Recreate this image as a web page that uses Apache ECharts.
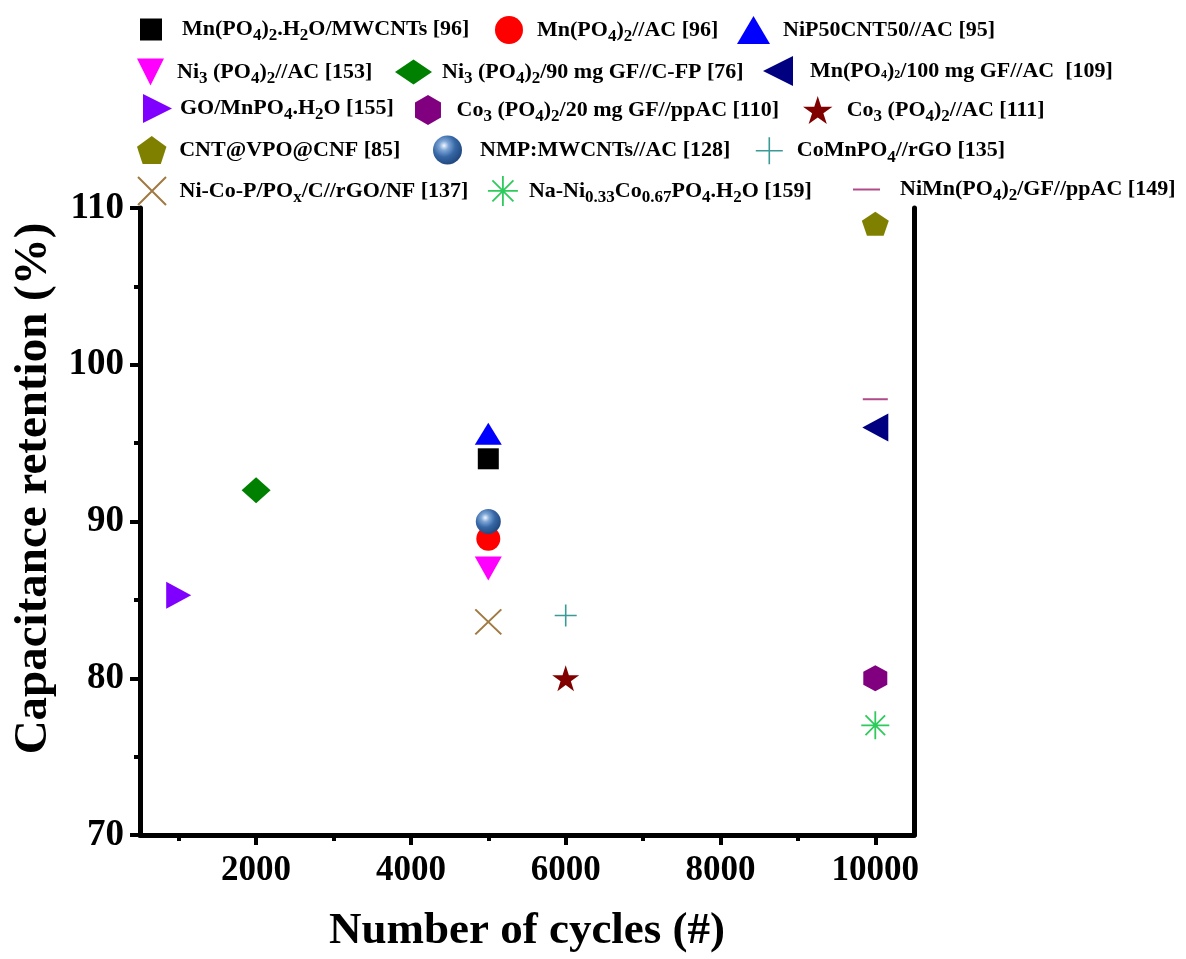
<!DOCTYPE html>
<html>
<head>
<meta charset="utf-8">
<script src="https://cdn.jsdelivr.net/npm/echarts@6/dist/echarts.min.js"></script>
<style>
html,body{margin:0;padding:0;background:#fff;}
#chart{width:1186px;height:959px;}
</style>
</head>
<body>
<div id="chart"></div>
<script>
// ---------- DATA ----------
const seriesNames = [
  'Mn(PO4)2.H2O/MWCNTs [96]',
  'Mn(PO4)2//AC [96]',
  'NiP50CNT50//AC [95]',
  'Ni3 (PO4)2//AC [153]',
  'Ni3 (PO4)2/90 mg GF//C-FP [76]',
  'Mn(PO4)2/100 mg GF//AC  [109]',
  'GO/MnPO4.H2O [155]',
  'Co3 (PO4)2/20 mg GF//ppAC [110]',
  'Co3 (PO4)2//AC [111]',
  'CNT@VPO@CNF [85]',
  'NMP:MWCNTs//AC [128]',
  'CoMnPO4//rGO [135]',
  'Ni-Co-P/POx/C//rGO/NF [137]',
  'Na-Ni0.33Co0.67PO4.H2O [159]',
  'NiMn(PO4)2/GF//ppAC [149]'
];
// rich-text versions of the legend labels (subscripts)
const legendLabels = [
  'Mn(PO{s|4}){s|2}.H{s|2}O/MWCNTs [96]',
  'Mn(PO{s|4}){s|2}//AC [96]',
  'NiP50CNT50//AC [95]',
  'Ni{s|3} (PO{s|4}){s|2}//AC [153]',
  'Ni{s|3} (PO{s|4}){s|2}/90 mg GF//C-FP [76]',
  'Mn(PO{t|4}){t|2}/100 mg GF//AC  [109]',
  'GO/MnPO{s|4}.H{s|2}O [155]',
  'Co{s|3} (PO{s|4}){s|2}/20 mg GF//ppAC [110]',
  'Co{s|3} (PO{s|4}){s|2}//AC [111]',
  'CNT@VPO@CNF [85]',
  'NMP:MWCNTs//AC [128]',
  'CoMnPO{s|4}//rGO [135]',
  'Ni-Co-P/PO{s|x}/C//rGO/NF [137]',
  'Na-Ni{s|0.33}Co{s|0.67}PO{s|4}.H{s|2}O [159]',
  'NiMn(PO{s|4}){s|2}/GF//ppAC [149]'
];
const cycles    = [5000, 5000, 5000, 5000, 2000, 10000, 1000, 10000, 6000, 10000, 5000, 6000, 5000, 10000, 10000];
const retention = [94.0, 88.9, 95.6, 87.0, 92.0, 96.0, 85.3, 80.0, 80.0, 109.0, 90.0, 84.0, 83.6, 77.0, 97.8];
const xMajorTicks = [2000, 4000, 6000, 8000, 10000];
const xMinorTicks = [1000, 3000, 5000, 7000, 9000];

// ---------- STYLES ----------
const FONT = '"Liberation Serif","Times New Roman",serif';
const sphereFill = {
  type: 'radial', x: 0.38, y: 0.35, r: 0.65,
  colorStops: [
    {offset: 0, color: '#f4f8ff'},
    {offset: 0.25, color: '#7ea6d6'},
    {offset: 0.6, color: '#3767a6'},
    {offset: 1, color: '#224a80'}
  ]
};
const markers = [
  {symbol: 'rect', size: [21, 21], color: '#000000'},
  {symbol: 'circle', size: 24, color: '#ff0000'},
  {symbol: 'triangle', size: [27, 22], color: '#0000ff'},
  {symbol: 'path://M0,0L10,0L5,10Z', size: [27, 24], color: '#ff00ff'},
  {symbol: 'diamond', size: [29, 26], color: '#008000'},
  {symbol: 'path://M0,5L10,0L10,10Z', size: [26, 28], color: '#000080'},
  {symbol: 'path://M0,0L10,5L0,10Z', size: [25, 27], color: '#8000ff'},
  {symbol: 'path://M50,0L93.3,25L93.3,75L50,100L6.7,75L6.7,25Z', size: [24, 26], color: '#800080'},
  {symbol: 'path://M50,0L61.2,34.5L97.6,34.5L68.2,55.9L79.4,90.5L50,69.1L20.6,90.5L31.8,55.9L2.4,34.5L38.8,34.5Z', size: [27, 26], color: '#800000'},
  {symbol: 'path://M50,0L97.6,34.5L79.4,90.5L20.6,90.5L2.4,34.5Z', size: [27, 24], color: '#808000'},
  {symbol: 'circle', size: 25, color: sphereFill},
  {symbol: 'path://M5,0L5,10M0,5L10,5', size: [22, 22], color: '#3a9a96', stroke: 1.6},
  {symbol: 'path://M0,0L10,10M10,0L0,10', size: [26, 25], color: '#a07a42', stroke: 2},
  {symbol: 'path://M5,0L5,10M0,5L10,5M1.5,1.5L8.5,8.5M8.5,1.5L1.5,8.5', size: [28, 28], color: '#2fca5c', stroke: 1.8},
  {symbol: 'rect', size: [25, 2], color: '#b04a88'}
];
// legend layout: [rowCenterY, iconLeft, iconW, iconH, textStartX]
const legendLayout = [
  [30, 140, 22, 22, 182], [30, 495, 28, 28, 537], [30, 737, 33, 28, 783],
  [72, 137, 33, 27, 180], [72, 395, 37, 25, 442], [72, 763, 30, 32, 810],
  [110, 143, 29, 32, 180], [110, 415, 27, 30, 457], [110, 803, 30, 28, 847],
  [150, 137, 31, 28, 180], [150, 433, 29, 29, 480], [150, 755, 27, 27, 796],
  [190, 137, 31, 28, 180], [190, 487, 30, 30, 528], [190, 853, 27, 2, 900]
];

const SUB_SIZE = 17, SUB_DROP = 13, BASE_SIZE = 22, TEXT_BOX_H = 23;
const richStyles = {
  s: {fontSize: SUB_SIZE, fontWeight: 'bold', fontFamily: FONT, color: '#000', padding: [SUB_DROP, 0, 0, 0]},
  t: {fontSize: 12, fontWeight: 'bold', fontFamily: FONT, color: '#000', padding: [8, 0, 0, 0]}
};

const series = seriesNames.map((name, i) => {
  const m = markers[i];
  return {
    type: 'scatter',
    name: name,
    symbol: m.symbol,
    symbolSize: m.size,
    data: [[cycles[i], retention[i]]],
    itemStyle: m.stroke
      ? {color: m.color, borderColor: m.color, borderWidth: m.stroke, opacity: 1}
      : {color: m.color, opacity: 1},
    emphasis: {disabled: true},
    z: 3 + i
  };
});

const legends = seriesNames.map((name, i) => {
  const L = legendLayout[i];
  const m = markers[i];
  const boxH = Math.max(L[3], TEXT_BOX_H);
  return {
    data: [name],
    left: L[1],
    top: L[0] - boxH / 2,
    orient: 'horizontal',
    padding: 0,
    itemWidth: L[2],
    itemHeight: L[3],
    selectedMode: false,
    itemStyle: m.stroke ? {borderWidth: m.stroke, opacity: 1} : {borderWidth: 0, opacity: 1},
    formatter: () => legendLabels[i],
    textStyle: {
      fontFamily: FONT, fontWeight: 'bold', fontSize: BASE_SIZE, color: '#000',
      padding: [0, 0, 0, L[4] - L[1] - L[2] - 5],
      rich: richStyles
    }
  };
});

const chart = echarts.init(document.getElementById('chart'), null, {renderer: 'canvas'});
chart.setOption({
  animation: false,
  backgroundColor: '#ffffff',
  legend: legends,
  grid: {left: 140, right: 272, top: 208, bottom: 115, containLabel: false},
  xAxis: [
    {
      type: 'value', min: 500, max: 10500,
      name: 'Number of cycles (#)', nameLocation: 'middle', nameGap: 74,
      nameTextStyle: {fontFamily: FONT, fontWeight: 'bold', fontSize: 45, color: '#000'},
      axisLine: {show: true, onZero: false, lineStyle: {color: '#000', width: 5}},
      axisTick: {show: true, inside: false, length: 10, customValues: xMajorTicks, lineStyle: {color: '#000', width: 4}},
      axisLabel: {show: true, margin: 18, customValues: xMajorTicks, formatter: v => String(v),
        fontFamily: FONT, fontWeight: 'bold', fontSize: 35, color: '#000'},
      splitLine: {show: false}
    },
    {
      type: 'value', min: 500, max: 10500, position: 'bottom', offset: 0,
      axisLine: {show: false},
      axisTick: {show: true, inside: false, length: 6, customValues: xMinorTicks, lineStyle: {color: '#000', width: 4}},
      axisLabel: {show: false},
      splitLine: {show: false}
    }
  ],
  yAxis: [
    {
      type: 'value', min: 70, max: 110, interval: 10,
      name: 'Capacitance retention (%)', nameLocation: 'middle', nameGap: 78,
      nameTextStyle: {fontFamily: FONT, fontWeight: 'bold', fontSize: 47, color: '#000', padding: [0, 0, 0, 66]},
      axisLine: {show: true, onZero: false, lineStyle: {color: '#000', width: 5}},
      axisTick: {show: true, inside: false, length: 10, lineStyle: {color: '#000', width: 4}},
      minorTick: {show: true, splitNumber: 2, length: 6, lineStyle: {color: '#000', width: 4}},
      axisLabel: {show: true, margin: 16, formatter: v => String(v),
        fontFamily: FONT, fontWeight: 'bold', fontSize: 37, color: '#000'},
      splitLine: {show: false},
      minorSplitLine: {show: false}
    },
    {
      type: 'value', min: 70, max: 110, position: 'right',
      axisLine: {show: true, onZero: false, lineStyle: {color: '#000', width: 5}},
      axisTick: {show: false},
      axisLabel: {show: false},
      splitLine: {show: false}
    }
  ],
  series: series
});
</script>
</body>
</html>
